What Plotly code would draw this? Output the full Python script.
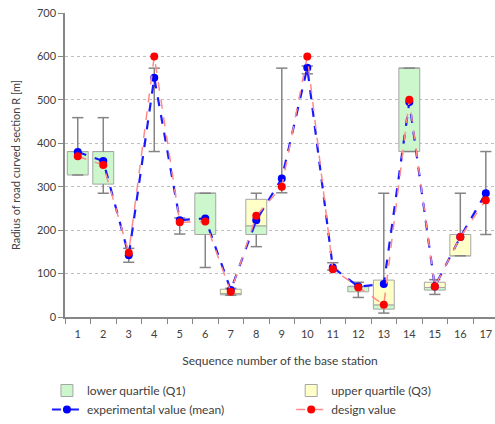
import plotly.graph_objects as go

stations = [str(i) for i in range(1, 18)]
# whisker extremes
w_min = [327, 285, 126, 381, 191, 114, 50, 162, 286, 560, 108, 45, 9, 381, 52, 141, 190]
w_max = [459, 459, 158, 573, 228, 285, 66, 285, 573, 578, 125, 80, 285, 573, 86, 285, 381]
# box: lower quartile (green) from q_lo to q_mid, upper quartile (yellow) from q_mid to q_hi
q_lo = [327, 306, None, None, None, 190, 51, 190, None, None, None, 58, 18, 381, 62, 141, None]
q_mid = [381, 381, None, None, None, 285, 54, 210, None, None, None, 70, 28, 573, 68, 141, None]
q_hi = [381, 381, None, None, None, 285, 64, 271, None, None, None, 71, 85, 573, 80, 190, None]
mean_vals = [380, 359, 142, 551, 223, 227, 62, 223, 319, 574, 114, 70, 76, 495, 70, 184, 285]
design_vals = [370, 350, 148, 600, 218, 220, 58, 233, 300, 600, 110, 68, 28, 500, 70, 184, 269]

FONT = "Lato"
TXT = "#404040"
GRAY = "#848484"

fig = go.Figure()

# whisker lines (outside the box)
wx, wy = [], []
for s, mn, lo, hi, mx in zip(stations, w_min, q_lo, q_hi, w_max):
    if lo is None:
        wx += [s, s, None]
        wy += [mx, mn, None]
    else:
        wx += [s, s, None, s, s, None]
        wy += [mx, hi, None, lo, mn, None]
fig.add_trace(go.Scatter(x=wx, y=wy, mode="lines", line=dict(color=GRAY, width=1.5),
                         showlegend=False, hoverinfo="skip"))
fig.add_trace(go.Scatter(x=stations + stations, y=w_max + w_min, mode="markers",
                         marker=dict(symbol="line-ew", size=8, line=dict(color=GRAY, width=1.5)),
                         showlegend=False, hoverinfo="skip"))

def diff(a, b):
    return [None if (x is None or y is None) else x - y for x, y in zip(a, b)]

fig.add_trace(go.Bar(x=stations, y=diff(q_mid, q_lo), base=q_lo,
                     width=0.82, name="lower quartile (Q1)", legend="legend", legendgroup="a",
                     marker=dict(color="#ccf7cc", line=dict(color="#a6a6a6", width=1))))
fig.add_trace(go.Bar(x=stations, y=diff(q_hi, q_mid), base=q_mid,
                     width=0.82, name="upper quartile (Q3)", legend="legend2", legendgroup="b",
                     marker=dict(color="#ffffc8", line=dict(color="#a6a6a6", width=1))))

fig.add_trace(go.Scatter(x=stations, y=mean_vals, mode="lines+markers",
                         name="experimental value (mean)", legend="legend", legendgroup="c",
                         line=dict(color="#1a1aff", width=2.2, dash="dash"),
                         marker=dict(color="#0000ff", size=8)))
fig.add_trace(go.Scatter(x=stations, y=design_vals, mode="lines+markers",
                         name="design value", legend="legend2", legendgroup="d",
                         line=dict(color="#ff8a8a", width=1.5, dash="dash"),
                         marker=dict(color="#ff0000", size=8)))

leg_common = dict(orientation="v", xanchor="left",
                  yanchor="bottom", y=-0.352, font=dict(size=12, color=TXT),
                  traceorder="normal", itemwidth=30, tracegroupgap=5,
                  bgcolor="rgba(0,0,0,0)")

fig.update_layout(
    width=495, height=424,
    margin=dict(l=65, r=0, t=13, b=107),
    paper_bgcolor="white", plot_bgcolor="white",
    barmode="overlay",
    font=dict(family=FONT, size=11, color=TXT),
    showlegend=True,
    legend=dict(x=-0.042, **leg_common),
    legend2=dict(x=0.526, **leg_common),
    xaxis=dict(type="category", range=[-0.5, 16.36], showgrid=False,
               showline=True, linecolor="#868686", linewidth=1.5,
               ticks="outside", tickson="boundaries", ticklen=5, tickcolor="#868686",
               tickfont=dict(size=11, color=TXT), automargin=False, ticklabelstandoff=6,
               title=dict(text="Sequence number of the base station", font=dict(size=12, color=TXT),
                          standoff=18)),
    yaxis=dict(range=[0, 700], dtick=100, showgrid=True, gridcolor="#bfbfbf", griddash="dot",
               gridwidth=1, zeroline=False, automargin=False,
               showline=True, linecolor="#868686", linewidth=1.5,
               ticks="outside", ticklen=5, tickcolor="#868686",
               tickfont=dict(size=11, color=TXT),
               title=dict(text="Radius of road curved section R [m]", font=dict(size=11, color=TXT),
                          standoff=14)),
)

fig.write_html("out.html", config={"displayModeBar": False},
               post_script="document.body.style.margin='0px';")
